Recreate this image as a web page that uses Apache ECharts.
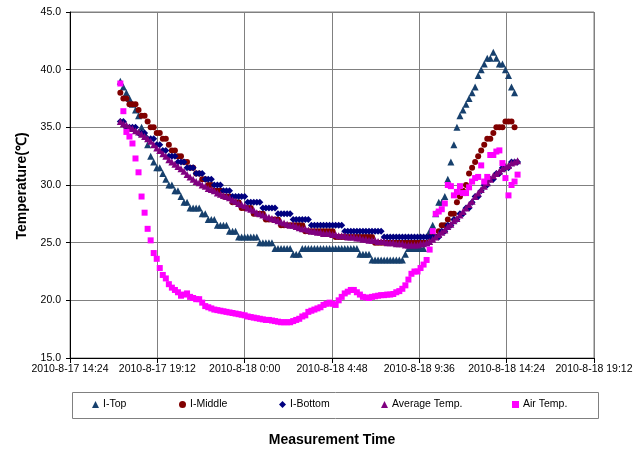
<!DOCTYPE html>
<html>
<head>
<meta charset="utf-8">
<script src="https://cdn.jsdelivr.net/npm/echarts@6/dist/echarts.min.js"></script>
<style>
  html, body { margin: 0; padding: 0; background: #ffffff; }
  #chart { width: 642px; height: 450px; }
</style>
</head>
<body>
<div id="chart"></div>
<script>
// Logger readings, one every 10 minutes from 2010-8-17 17:10
const firstReadingMin = 17 * 60 + 10;   // minutes after 2010-8-17 0:00
const readingStepMin = 10;

const seriesNames = ['I-Top', 'I-Middle', 'I-Bottom', 'Average Temp.', 'Air Temp.'];

const iTop = [
  39.0, 38.5, 38.0, 37.5, 37.0, 36.5, 36.0, 35.0, 34.5, 33.5,
  32.5, 32.0, 31.5, 31.5, 31.0, 30.5, 30.0, 30.0, 29.5, 29.5,
  29.0, 28.5, 28.5, 28.0, 28.0, 28.0, 28.0, 27.5, 27.5, 27.0,
  27.0, 27.0, 26.5, 26.5, 26.5, 26.5, 26.0, 26.0, 26.0, 25.5,
  25.5, 25.5, 25.5, 25.5, 25.5, 25.5, 25.0, 25.0, 25.0, 25.0,
  25.0, 24.5, 24.5, 24.5, 24.5, 24.5, 24.5, 24.0, 24.0, 24.0,
  24.5, 24.5, 24.5, 24.5, 24.5, 24.5, 24.5, 24.5, 24.5, 24.5,
  24.5, 24.5, 24.5, 24.5, 24.5, 24.5, 24.5, 24.5, 24.5, 24.0,
  24.0, 24.0, 24.0, 23.5, 23.5, 23.5, 23.5, 23.5, 23.5, 23.5,
  23.5, 23.5, 23.5, 23.5, 24.0, 24.5, 24.5, 24.5, 24.5, 24.5,
  24.5, 25.0, 26.0, 26.5, 27.5, 28.5, 28.5, 29.0, 30.5, 32.0,
  33.5, 35.0, 36.0, 36.5, 37.0, 37.5, 38.0, 38.5, 39.5, 40.0,
  40.5, 41.0, 41.0, 41.5, 41.0, 40.5, 40.5, 40.0, 39.5, 38.5,
  38.0
];

const iMiddle = [
  38.0, 37.5, 37.5, 37.0, 37.0, 37.0, 36.5, 36.0, 36.0, 35.5,
  35.0, 35.0, 34.5, 34.5, 34.0, 34.0, 33.5, 33.0, 33.0, 32.5,
  32.5, 32.0, 32.0, 31.5, 31.5, 31.0, 31.0, 30.5, 30.5, 30.0,
  30.0, 29.5, 29.5, 29.5, 29.0, 29.0, 29.0, 28.5, 28.5, 28.5,
  28.0, 28.0, 28.0, 28.0, 27.5, 27.5, 27.5, 27.5, 27.0, 27.0,
  27.0, 27.0, 27.0, 26.5, 26.5, 26.5, 26.5, 26.5, 26.5, 26.5,
  26.5, 26.0, 26.0, 26.0, 26.0, 26.0, 26.0, 26.0, 26.0, 26.0,
  26.0, 25.5, 25.5, 25.5, 25.5, 25.5, 25.5, 25.5, 25.5, 25.5,
  25.5, 25.5, 25.5, 25.5, 25.0, 25.0, 25.0, 25.0, 25.0, 25.0,
  25.0, 25.0, 25.0, 25.0, 25.0, 25.0, 25.0, 25.0, 25.0, 25.0,
  25.0, 25.0, 25.5, 25.5, 25.5, 26.0, 26.5, 26.5, 27.0, 27.5,
  27.5, 28.5, 29.0, 29.5, 30.0, 31.0, 31.5, 32.0, 32.5, 33.0,
  33.5, 34.0, 34.0, 34.5, 35.0, 35.0, 35.0, 35.5, 35.5, 35.5,
  35.0
];

const iBottom = [
  35.5, 35.5, 35.0, 35.0, 35.0, 35.0, 34.5, 34.5, 34.5, 34.0,
  34.0, 34.0, 33.5, 33.5, 33.0, 33.0, 32.5, 32.5, 32.5, 32.0,
  32.0, 32.0, 31.5, 31.5, 31.5, 31.0, 31.0, 31.0, 30.5, 30.5,
  30.5, 30.0, 30.0, 30.0, 29.5, 29.5, 29.5, 29.0, 29.0, 29.0,
  29.0, 29.0, 28.5, 28.5, 28.5, 28.5, 28.5, 28.0, 28.0, 28.0,
  28.0, 28.0, 27.5, 27.5, 27.5, 27.5, 27.5, 27.0, 27.0, 27.0,
  27.0, 27.0, 27.0, 26.5, 26.5, 26.5, 26.5, 26.5, 26.5, 26.5,
  26.5, 26.5, 26.5, 26.5, 26.0, 26.0, 26.0, 26.0, 26.0, 26.0,
  26.0, 26.0, 26.0, 26.0, 26.0, 26.0, 26.0, 25.5, 25.5, 25.5,
  25.5, 25.5, 25.5, 25.5, 25.5, 25.5, 25.5, 25.5, 25.5, 25.5,
  25.5, 25.5, 25.5, 25.5, 25.5, 25.5, 26.0, 26.0, 26.5, 26.5,
  27.0, 27.0, 27.5, 27.5, 28.0, 28.0, 28.5, 29.0, 29.0, 29.5,
  30.0, 30.0, 30.5, 30.5, 31.0, 31.0, 31.5, 31.5, 31.5, 32.0,
  32.0, 32.0
];

const avgTemp = [
  35.5, 35.3, 35.2, 35.0, 34.9, 34.7, 34.6, 34.4, 34.2, 34.0,
  33.8, 33.5, 33.2, 33.0, 32.7, 32.5, 32.2, 32.0, 31.8, 31.6,
  31.4, 31.2, 30.9, 30.7, 30.5, 30.3, 30.2, 30.0, 29.9, 29.7,
  29.6, 29.5, 29.3, 29.2, 29.1, 29.0, 28.9, 28.7, 28.6, 28.4,
  28.3, 28.2, 28.0, 27.9, 27.8, 27.6, 27.5, 27.4, 27.3, 27.2,
  27.1, 27.0, 26.9, 26.8, 26.7, 26.6, 26.5, 26.5, 26.4, 26.3,
  26.2, 26.2, 26.1, 26.0, 26.0, 25.9, 25.9, 25.8, 25.8, 25.8,
  25.7, 25.7, 25.6, 25.6, 25.6, 25.5, 25.5, 25.5, 25.4, 25.4,
  25.3, 25.3, 25.2, 25.2, 25.2, 25.1, 25.1, 25.1, 25.0, 25.0,
  25.0, 24.9, 24.9, 24.9, 24.8, 24.8, 24.8, 24.8, 24.8, 24.9,
  24.9, 25.0, 25.1, 25.3, 25.5, 25.7, 25.9, 26.1, 26.4, 26.6,
  26.9, 27.1, 27.4, 27.7, 28.0, 28.3, 28.6, 29.0, 29.3, 29.6,
  29.9, 30.2, 30.5, 30.8, 31.0, 31.2, 31.4, 31.6, 31.7, 31.9,
  32.0, 32.1
];

const airTemp = [
  38.8, 36.4, 34.6, 34.2, 33.6, 32.3, 31.1, 29.0, 27.6, 26.2,
  25.2, 24.1, 23.6, 22.8, 22.2, 21.9, 21.4, 21.1, 20.9, 20.7,
  20.4, 20.5, 20.6, 20.3, 20.2, 20.1, 20.1, 19.8, 19.5, 19.4,
  19.3, 19.2, 19.15, 19.1, 19.05, 19.0, 18.95, 18.9, 18.85, 18.8,
  18.75, 18.7, 18.6, 18.55, 18.5, 18.45, 18.4, 18.35, 18.3, 18.3,
  18.25, 18.2, 18.15, 18.1, 18.1, 18.1, 18.1, 18.2, 18.3, 18.4,
  18.6, 18.7, 19.0, 19.1, 19.2, 19.3, 19.4, 19.6, 19.7, 19.8,
  19.7, 19.6, 20.0, 20.3, 20.6, 20.75, 20.9, 20.9, 20.7, 20.5,
  20.3, 20.25, 20.2, 20.3, 20.35, 20.4, 20.45, 20.45, 20.5, 20.5,
  20.55, 20.7, 20.8, 21.0, 21.3, 21.8, 22.3, 22.5, 22.5, 22.8,
  23.1, 23.5, 24.4, 26.0, 27.5, 27.7, 27.9, 28.4, 30.0, 29.9,
  29.1, 29.4, 29.9, 29.3, 29.3, 29.8, 30.3, 30.6, 30.7, 31.7,
  30.3, 30.7, 32.6, 32.6, 32.9, 33.0, 31.9, 30.6, 29.1, 30.0,
  30.3, 30.9
];

// Axis range in minutes after 2010-8-17 0:00 (14:24 to next day 19:12, 4h48 steps)
const xMin = 864, xMax = 2592, xStep = 288;
const yMin = 15, yMax = 45, yStep = 5;

function timeLabel(v) {
  const day = 17 + Math.floor(v / 1440);
  const m = v % 1440;
  const h = Math.floor(m / 60);
  const mm = m % 60;
  return '2010-8-' + day + ' ' + h + ':' + String(mm).padStart(2, '0');
}

function pairs(values) {
  return values.map((v, i) => [firstReadingMin + i * readingStepMin, v]);
}

const FONT = '"Liberation Sans", Arial, sans-serif';

const styles = [
  { symbol: 'triangle', size: 7, color: '#17406D' },
  { symbol: 'circle', size: 6, color: '#800000' },
  { symbol: 'diamond', size: [7, 7], color: '#000080' },
  { symbol: 'triangle', size: 7, color: '#800080' },
  { symbol: 'rect', size: 6, color: '#FF00FF' }
];
const allValues = [iTop, iMiddle, iBottom, avgTemp, airTemp];

// Left edge of each legend entry inside the legend box
const legendLeft = [92, 179, 279, 381, 512];

const chart = echarts.init(document.getElementById('chart'), null, { renderer: 'canvas' });

chart.setOption({
  animation: false,
  backgroundColor: '#ffffff',
  textStyle: { fontFamily: FONT },
  grid: {
    left: 70, right: 48, top: 12, bottom: 92,
    show: true, borderColor: '#808080', borderWidth: 1,
    outerBoundsMode: 'none'
  },
  xAxis: {
    type: 'value',
    min: xMin, max: xMax, interval: xStep,
    axisLine: { show: true, onZero: false, lineStyle: { color: '#000000', width: 1 } },
    axisTick: { show: true, length: 5, lineStyle: { color: '#000000' } },
    axisLabel: { color: '#000000', fontSize: 10.5, fontFamily: FONT, margin: 6, formatter: timeLabel },
    splitLine: { show: true, lineStyle: { color: '#808080', width: 1 } }
  },
  yAxis: {
    type: 'value',
    min: yMin, max: yMax, interval: yStep,
    axisLine: { show: true, lineStyle: { color: '#000000', width: 1 } },
    axisTick: { show: true, length: 4, lineStyle: { color: '#000000' } },
    axisLabel: { color: '#000000', fontSize: 10.5, fontFamily: FONT, margin: 9,
      formatter: v => v.toFixed(1) },
    splitLine: { show: true, lineStyle: { color: '#808080', width: 1 } }
  },
  legend: seriesNames.map((name, k) => ({
    data: [name],
    left: legendLeft[k], top: 399,
    padding: 0,
    itemWidth: 7, itemHeight: 7, itemGap: 0,
    textStyle: { color: '#000000', fontSize: 10.5, fontFamily: FONT, padding: [0, 0, 0, -1] }
  })),
  graphic: [
    {
      type: 'rect', left: 70, top: 390, silent: true,
      shape: { width: 526, height: 26 },
      style: { fill: 'none', stroke: '#808080', lineWidth: 1 }
    },
    {
      type: 'text', x: 332, y: 440, silent: true,
      style: { text: 'Measurement Time', font: 'bold 14px ' + FONT, fill: '#000000',
        align: 'center', verticalAlign: 'middle' }
    },
    {
      type: 'text', x: 22, y: 186, rotation: Math.PI / 2, silent: true,
      style: { text: 'Temperature(℃)', font: 'bold 14px ' + FONT, fill: '#000000',
        align: 'center', verticalAlign: 'middle' }
    }
  ],
  series: seriesNames.map((name, k) => ({
    name: name,
    type: 'scatter',
    symbol: styles[k].symbol,
    symbolSize: styles[k].size,
    itemStyle: { color: styles[k].color, opacity: 1 },
    emphasis: { disabled: true },
    data: pairs(allValues[k])
  }))
});
</script>
</body>
</html>
